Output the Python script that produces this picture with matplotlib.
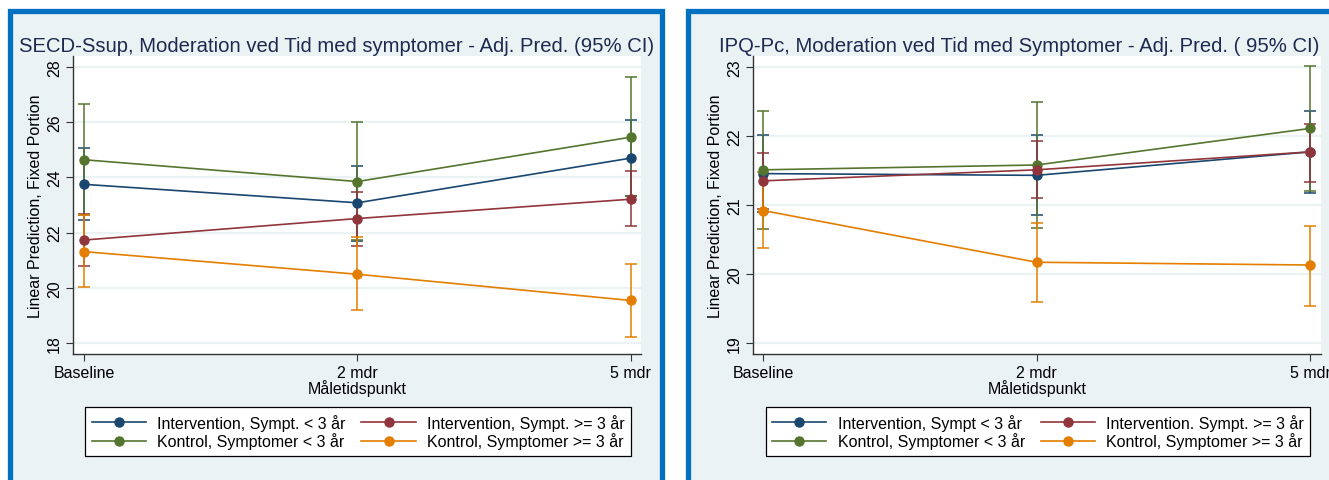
import numpy as np
import matplotlib
matplotlib.use("Agg")
import matplotlib.pyplot as plt
from matplotlib.patches import Rectangle
from matplotlib.lines import Line2D

plt.rcParams['font.family'] = ['Liberation Sans', 'DejaVu Sans']

# time points
timepoints = ["Baseline", "2 mdr", "5 mdr"]
xlab = "Måletidspunkt"
ylab = "Linear Prediction, Fixed Portion"

# left panel: SECD-Ssup
secd_title = "SECD-Ssup, Moderation ved Tid med symptomer - Adj. Pred. (95% CI)"
secd_names = ["Intervention, Sympt. < 3 år", "Intervention, Sympt. >= 3 år",
              "Kontrol, Symptomer < 3 år", "Kontrol, Symptomer >= 3 år"]
secd_int_lt3 = [23.75, 23.08, 24.70]
secd_int_lt3_lo = [22.45, 21.69, 23.32]
secd_int_lt3_hi = [25.07, 24.42, 26.08]
secd_int_ge3 = [21.73, 22.51, 23.21]
secd_int_ge3_lo = [20.79, 21.51, 22.23]
secd_int_ge3_hi = [22.69, 23.47, 24.22]
secd_kon_lt3 = [24.64, 23.85, 25.46]
secd_kon_lt3_lo = [22.65, 21.73, 23.33]
secd_kon_lt3_hi = [26.66, 25.99, 27.64]
secd_kon_ge3 = [21.31, 20.49, 19.54]
secd_kon_ge3_lo = [20.03, 19.18, 18.20]
secd_kon_ge3_hi = [22.63, 21.85, 20.87]
secd_yticks = [18, 20, 22, 24, 26, 28]

# right panel: IPQ-Pc
ipq_title = "IPQ-Pc, Moderation ved Tid med Symptomer - Adj. Pred. ( 95% CI)"
ipq_names = ["Intervention, Sympt < 3 år", "Intervention. Sympt. >= 3 år",
             "Kontrol, Symptomer < 3 år", "Kontrol, Symptomer >= 3 år"]
ipq_int_lt3 = [21.455, 21.43, 21.77]
ipq_int_lt3_lo = [20.90, 20.86, 21.18]
ipq_int_lt3_hi = [22.01, 22.01, 22.36]
ipq_int_ge3 = [21.35, 21.51, 21.77]
ipq_int_ge3_lo = [20.94, 21.10, 21.34]
ipq_int_ge3_hi = [21.76, 21.93, 22.18]
ipq_kon_lt3 = [21.51, 21.58, 22.11]
ipq_kon_lt3_lo = [20.65, 20.66, 21.20]
ipq_kon_lt3_hi = [22.36, 22.49, 23.02]
ipq_kon_ge3 = [20.92, 20.17, 20.13]
ipq_kon_ge3_lo = [20.37, 19.60, 19.54]
ipq_kon_ge3_hi = [21.48, 20.74, 20.70]
ipq_yticks = [19, 20, 21, 22, 23]

# stata s2color
colors = ["#1a476f", "#90353b", "#55752f", "#e37e00"]
bg = "#eaf2f3"
frame = "#0070c0"

W, H = 1329, 481
fig = plt.figure(figsize=(W / 100, H / 100), dpi=100)
fig.patch.set_facecolor("white")


def px(x0, y0, x1, y1):
    # pixel box (top-down) -> figure fraction rect
    return [x0 / W, 1 - y1 / H, (x1 - x0) / W, (y1 - y0) / H]


def panel(x0, x1):
    r = px(x0, 11.5, x1, 490)
    fig.patches.append(Rectangle((r[0], r[1]), r[2], r[3], transform=fig.transFigure,
                                 facecolor=bg, edgecolor=frame, lw=3.8, zorder=-10))


panel(9.5, 661.5)
panel(688.5, 1345)


def draw(ax_box, xlim, ylim, yticks, title, title_x, names, series, legend_box):
    ax = fig.add_axes(px(*ax_box))
    ax.set_facecolor("white")
    x = np.arange(len(timepoints))
    order = [0, 2, 1, 3]
    for i in order:
        m, lo, hi = series[i]
        m = np.array(m)
        err = [m - np.array(lo), np.array(hi) - m]
        ax.errorbar(x, m, yerr=err, fmt="none", ecolor=colors[i], elinewidth=1.1,
                    capsize=4, capthick=1.1, zorder=3)
    for i in order:
        m = series[i][0]
        ax.plot(x, m, "-o", color=colors[i], lw=1.2, ms=6.5, zorder=4)
    ax.set_xlim(*xlim)
    ax.set_ylim(*ylim)
    ax.set_yticks(yticks)
    ax.set_yticklabels([str(t) for t in yticks], rotation=90, va="center", fontsize=11.5)
    ax.set_xticks(x)
    ax.set_xticklabels(timepoints, fontsize=11.5)
    ax.grid(axis="y", color=bg, lw=1.6)
    ax.set_axisbelow(True)
    for s in ["top", "right"]:
        ax.spines[s].set_visible(False)
    for s in ["left", "bottom"]:
        ax.spines[s].set_color("#333333")
        ax.spines[s].set_linewidth(1.0)
    ax.tick_params(direction="out", length=5, color="#333333", pad=3)
    ax.set_ylabel(ylab, fontsize=11.5, labelpad=3)
    ax.set_xlabel(xlab, fontsize=11.5, labelpad=-1)
    fig.text(title_x / W, 1 - 47 / H, title, ha="center", va="center",
             fontsize=14.6, color="#1e2a4f")
    # legend laid out row-wise like the original
    idx = [0, 2, 1, 3]
    handles = [Line2D([], [], color=colors[i], marker="o", lw=1.2, ms=6.5) for i in idx]
    labels = [names[i] for i in idx]
    lb = px(*legend_box)
    leg = fig.legend(handles, labels, loc="center", bbox_to_anchor=(lb[0] + lb[2] / 2, lb[1] + lb[3] / 2),
                     bbox_transform=fig.transFigure, ncol=2, fontsize=11.5, frameon=True,
                     fancybox=False, edgecolor="black", facecolor="white", framealpha=1,
                     handlelength=3.4, columnspacing=1.0, labelspacing=0.12, borderpad=0.4,
                     handletextpad=0.7)
    leg.get_frame().set_linewidth(0.9)
    return ax


secd_series = [(secd_int_lt3, secd_int_lt3_lo, secd_int_lt3_hi),
               (secd_int_ge3, secd_int_ge3_lo, secd_int_ge3_hi),
               (secd_kon_lt3, secd_kon_lt3_lo, secd_kon_lt3_hi),
               (secd_kon_ge3, secd_kon_ge3_lo, secd_kon_ge3_hi)]
ipq_series = [(ipq_int_lt3, ipq_int_lt3_lo, ipq_int_lt3_hi),
              (ipq_int_ge3, ipq_int_ge3_lo, ipq_int_ge3_hi),
              (ipq_kon_lt3, ipq_kon_lt3_lo, ipq_kon_lt3_hi),
              (ipq_kon_ge3, ipq_kon_ge3_lo, ipq_kon_ge3_hi)]

draw((73, 57, 641, 355), (-0.040, 2.037), (17.6, 28.4), secd_yticks, secd_title, 337,
     secd_names, secd_series, (80, 407, 636, 458))
draw((753, 57, 1321, 355), (-0.037, 2.04), (18.84, 23.16), ipq_yticks, ipq_title, 1019,
     ipq_names, ipq_series, (760, 407, 1316, 458))

fig.savefig("out.png", dpi=100)
